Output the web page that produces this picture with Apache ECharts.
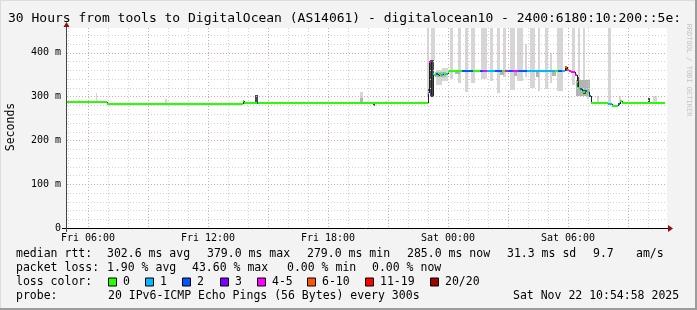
<!DOCTYPE html>
<html>
<head>
<meta charset="utf-8">
<title>SmokePing - DigitalOcean</title>
<script src="https://cdn.jsdelivr.net/npm/echarts@6/dist/echarts.min.js"></script>
<style>
  html, body { margin: 0; padding: 0; background: #f3f3f3; }
  #chart { width: 697px; height: 310px; }
</style>
</head>
<body>
<div id="chart"></div>
<script>
// time is in hours since Fri 00:00
const startHour = 4.95
const endHour = 34.95
const yMax = 456

const xLabelHours = [6, 12, 18, 24, 30]
const xLabelText = ['Fri 06:00', 'Fri 12:00', 'Fri 18:00', 'Sat 00:00', 'Sat 06:00']
const yLabelValues = [0, 100, 200, 300, 400]

// median rtt: [step start hour, ms, loss class]
const medianSteps = [
  [4.95, 288, 0], [6.93, 283, 0], [13.73, 289, 0], [13.82, 285, 0],
  [14.43, 286, 2], [14.52, 285, 0], [21.6, 286, 0],
  [22.98, 307, 1], [23.07, 379, 4], [23.15, 301, 3], [23.23, 352, 1],
  [23.32, 349, 0], [23.40, 352, 2], [23.48, 346, 0], [23.57, 350, 0],
  [23.65, 348, 1], [23.73, 353, 0], [23.82, 351, 0], [23.90, 352, 1],
  [23.98, 355, 0], [24.07, 357, 0], [24.70, 358, 2], [25.25, 357, 0],
  [25.60, 358, 2], [25.75, 358, 4], [25.95, 358, 1], [26.35, 358, 2],
  [26.70, 357, 0], [26.85, 358, 4], [27.00, 358, 2], [27.25, 358, 4],
  [27.50, 357, 2], [27.95, 358, 1], [29.35, 357, 0], [29.50, 357, 2],
  [29.70, 357, 1], [29.85, 366, 5], [29.95, 361, 5], [30.05, 357, 4],
  [30.15, 355, 4], [30.35, 349, 4], [30.45, 333, 0], [30.50, 320, 0],
  [30.60, 317, 2], [30.70, 311, 0], [30.85, 313, 2], [30.95, 309, 0],
  [31.05, 301, 2], [31.15, 286, 0], [32.00, 282, 1], [32.20, 279, 0],
  [32.50, 283, 2], [32.60, 289, 0], [32.70, 286, 0]
]
const medianEnd = 34.85

// smoke: [from hour, to hour, low ms, high ms]
const smokeLight = [
  [5.5, 5.6, 288, 292], [6.4, 6.45, 288, 307], [9.85, 9.95, 283, 294],
  [19.6, 19.75, 285, 311], [20.85, 20.95, 285, 290],
  [22.975, 23.075, 300, 456], [23.15, 23.35, 383, 456], [23.4, 23.7, 325, 360],
  [23.7, 24.0, 335, 365], [24.1, 24.25, 340, 456], [24.5, 24.65, 330, 456],
  [24.85, 25.0, 310, 456], [25.15, 25.35, 330, 456], [25.65, 25.95, 340, 456],
  [26.1, 26.25, 335, 456], [26.45, 26.6, 308, 456], [26.75, 26.9, 345, 456],
  [27.1, 27.35, 315, 456], [27.45, 27.75, 335, 456], [27.85, 27.95, 345, 420],
  [28.1, 28.35, 320, 456], [28.5, 28.6, 312, 456], [28.85, 29.0, 318, 456],
  [29.1, 29.2, 330, 400], [29.45, 29.75, 312, 456], [30.2, 30.35, 325, 456],
  [30.5, 30.6, 300, 456], [30.75, 30.85, 300, 456], [30.95, 31.05, 295, 330],
  [31.45, 31.55, 286, 300], [32.0, 32.15, 283, 456], [32.55, 32.65, 283, 300],
  [34.25, 34.45, 286, 300]
]
const smokeMid = [
  [19.6, 19.75, 288, 297], [23.35, 23.9, 344, 356], [24.35, 24.6, 350, 357],
  [26.6, 26.8, 348, 357], [27.3, 27.45, 346, 357], [28.4, 28.55, 345, 357],
  [29.2, 29.4, 347, 357], [30.4, 31.1, 302, 338]
]
const smokeDark = [
  [14.35, 14.5, 286, 303], [20.25, 20.35, 279, 284], [22.985, 23.075, 300, 316],
  [23.1, 23.3, 300, 383], [29.85, 30.0, 358, 368], [30.45, 30.55, 322, 345],
  [30.75, 30.9, 305, 315], [34.0, 34.1, 286, 296]
]

const lossLabels = ['0', '1', '2', '3', '4-5', '6-10', '11-19', '20/20']
const lossColors = ['#26ff00', '#00b8ff', '#0059ff', '#7e00ff', '#ff00ff', '#ff5500', '#ff0000', '#a00000']

const rttStats = ['302.6 ms avg', '379.0 ms max', '279.0 ms min', '285.0 ms now', '31.3 ms sd', '9.7', 'am/s']
const lossStats = ['1.90 % avg', '43.60 % max', '0.00 % min', '0.00 % now']
const probeText = '20 IPv6-ICMP Echo Pings (56 Bytes) every 300s'
const stampText = 'Sat Nov 22 10:54:58 2025'
const titleText = '30 Hours from tools to DigitalOcean (AS14061) - digitalocean10 - 2400:6180:10:200::5e:'

// layout
const mono = 'DejaVu Sans Mono'
const rttX = [107, 207, 307, 407, 507, 593, 636]
const lossX = [107, 192, 287, 372]
const boxX = [108, 145, 182, 220, 257, 307, 365, 430]
const legendY = [254, 268.5, 282.5, 296.5]

const medianData = medianSteps.map((s, i) => {
  const next = i + 1 < medianSteps.length ? medianSteps[i + 1][0] : medianEnd
  const prev = i > 0 ? medianSteps[i - 1][1] : s[1]
  return [s[0], next, s[1], s[2], prev]
})

const vGrid = []
for (let h = 5; h <= 34; h++) vGrid.push([h, h % 3 === 0 ? 1 : 0])
const hGrid = []
for (let v = 20; v <= 440; v += 20) hGrid.push([startHour, v, v % 100 === 0 ? 1 : 0])

const smokeSeries = (data, color) => ({
  type: 'custom',
  z: 1,
  silent: true,
  data: data,
  encode: { x: [0, 1], y: [2, 3] },
  renderItem: (params, api) => {
    const a = api.coord([api.value(0), api.value(3)])
    const b = api.coord([api.value(1), api.value(2)])
    const x0 = Math.round(a[0])
    const x1 = Math.round(b[0])
    const y0 = Math.round(a[1])
    const y1 = Math.round(b[1])
    return {
      type: 'rect',
      shape: { x: x0, y: y0, width: Math.max(1, x1 - x0), height: Math.max(1, y1 - y0) },
      style: { fill: color }
    }
  }
})

const text = (x, y, str, extra) => ({
  type: 'text',
  x: x,
  y: y,
  z: 100,
  style: Object.assign({
    text: str,
    fontFamily: mono,
    fontSize: 11.5,
    fill: '#000',
    verticalAlign: 'middle'
  }, extra || {})
})

const graphics = [
  // frame shading
  { type: 'rect', shape: { x: 0, y: 0, width: 697, height: 1 }, style: { fill: '#dcdcdc' } },
  { type: 'rect', shape: { x: 0, y: 0, width: 1, height: 310 }, style: { fill: '#dcdcdc' } },
  { type: 'rect', shape: { x: 695, y: 0, width: 2, height: 310 }, style: { fill: '#9c9c9c' } },
  { type: 'rect', shape: { x: 0, y: 308, width: 697, height: 2 }, style: { fill: '#9c9c9c' } },
  // axes
  { type: 'line', z: 100, shape: { x1: 62, y1: 228.5, x2: 669, y2: 228.5 }, style: { stroke: '#000', lineWidth: 1 } },
  { type: 'line', z: 100, shape: { x1: 66.5, y1: 26, x2: 66.5, y2: 232 }, style: { stroke: '#444', lineWidth: 1 } },
  { type: 'polygon', z: 100, shape: { points: [[668, 225], [673, 228.5], [668, 232]] }, style: { fill: '#8b1010' } },
  { type: 'polygon', z: 100, shape: { points: [[63.5, 27], [66.5, 22], [69.5, 27]] }, style: { fill: '#8b1010' } },
  // title, unit, watermark
  text(8, 19, titleText, { fontSize: 13 }),
  Object.assign(text(0, 0, 'Seconds', { align: 'center' }), { x: 11, y: 127, rotation: Math.PI / 2 }),
  Object.assign(text(0, 0, 'RRDTOOL / TOBI OETIKER', { fontSize: 7, fill: '#c4c4c4', align: 'center' }),
    { x: 689, y: 70, rotation: -Math.PI / 2 }),
  // legend
  text(16, legendY[0], 'median rtt:'),
  text(16, legendY[1], 'packet loss:'),
  text(16, legendY[2], 'loss color:'),
  text(16, legendY[3], 'probe:'),
  text(108, legendY[3], probeText),
  text(513, legendY[3], stampText)
]
rttStats.forEach((s, i) => graphics.push(text(rttX[i], legendY[0], s)))
lossStats.forEach((s, i) => graphics.push(text(lossX[i], legendY[1], s)))
lossLabels.forEach((s, i) => {
  graphics.push({
    type: 'rect', z: 100,
    shape: { x: boxX[i] + 0.5, y: legendY[2] - 4.5, width: 8, height: 8 },
    style: { fill: lossColors[i], stroke: '#000', lineWidth: 1 }
  })
  graphics.push(text(boxX[i] + 15, legendY[2], s))
})

const chart = echarts.init(document.getElementById('chart'), null, { renderer: 'canvas' })
chart.setOption({
  animation: false,
  backgroundColor: '#f3f3f3',
  grid: {
    left: 67, top: 28, width: 600, height: 200,
    show: true, backgroundColor: '#fff', borderWidth: 0
  },
  xAxis: {
    type: 'value',
    min: startHour,
    max: endHour,
    axisLine: { show: false },
    axisTick: { show: false },
    splitLine: { show: false },
    axisLabel: {
      customValues: xLabelHours,
      margin: 5,
      fontFamily: mono,
      fontSize: 10,
      color: '#000',
      formatter: v => xLabelText[xLabelHours.indexOf(Math.round(v))] || ''
    }
  },
  yAxis: {
    type: 'value',
    min: 0,
    max: yMax,
    interval: 100,
    axisLine: { show: false },
    axisTick: { show: false },
    splitLine: { show: false },
    axisLabel: {
      customValues: yLabelValues,
      margin: 6,
      fontFamily: mono,
      fontSize: 10,
      color: '#000',
      formatter: v => (v === 0 ? '0' : v + ' m')
    }
  },
  graphic: graphics,
  series: [
    smokeSeries(smokeLight, '#d6d6d6'),
    smokeSeries(smokeMid, '#b4b4b4'),
    smokeSeries(smokeDark, '#4a4a4a'),
    {
      // vertical grid
      type: 'custom',
      z: 2,
      silent: true,
      data: vGrid,
      encode: { x: 0, y: 1 },
      renderItem: (params, api) => {
        const top = api.coord([api.value(0), yMax])
        const bot = api.coord([api.value(0), 0])
        const x = Math.round(top[0]) + 0.5
        return {
          type: 'line',
          shape: { x1: x, y1: top[1], x2: x, y2: bot[1] },
          style: { stroke: api.value(1) ? '#e8a0a0' : '#d2d2d2', lineWidth: 1, lineDash: [1, 2] }
        }
      }
    },
    {
      // horizontal grid
      type: 'custom',
      z: 2,
      silent: true,
      data: hGrid,
      encode: { x: 0, y: 1 },
      renderItem: (params, api) => {
        const l = api.coord([startHour, api.value(1)])
        const r = api.coord([endHour, api.value(1)])
        const y = Math.round(l[1]) + 0.5
        return {
          type: 'line',
          shape: { x1: l[0], y1: y, x2: r[0], y2: y },
          style: { stroke: api.value(2) ? '#e8a0a0' : '#d2d2d2', lineWidth: 1, lineDash: [1, 2] }
        }
      }
    },
    {
      // median rtt coloured by loss
      type: 'custom',
      z: 3,
      silent: true,
      data: medianData,
      encode: { x: [0, 1], y: 2 },
      renderItem: (params, api) => {
        const a = api.coord([api.value(0), api.value(2)])
        const b = api.coord([api.value(1), api.value(2)])
        const p = api.coord([api.value(0), api.value(4)])
        const x0 = Math.round(a[0])
        const x1 = Math.round(b[0])
        const y = Math.round(a[1])
        const children = []
        if (Math.abs(p[1] - a[1]) > 1) {
          children.push({
            type: 'line',
            shape: { x1: x0 + 0.5, y1: Math.round(p[1]), x2: x0 + 0.5, y2: y },
            style: { stroke: '#222', lineWidth: 1 }
          })
        }
        children.push({
          type: 'rect',
          shape: { x: x0, y: y - 1, width: Math.max(1, x1 - x0), height: 2 },
          style: { fill: lossColors[api.value(3)] }
        })
        return { type: 'group', children: children }
      }
    }
  ]
})
</script>
</body>
</html>
